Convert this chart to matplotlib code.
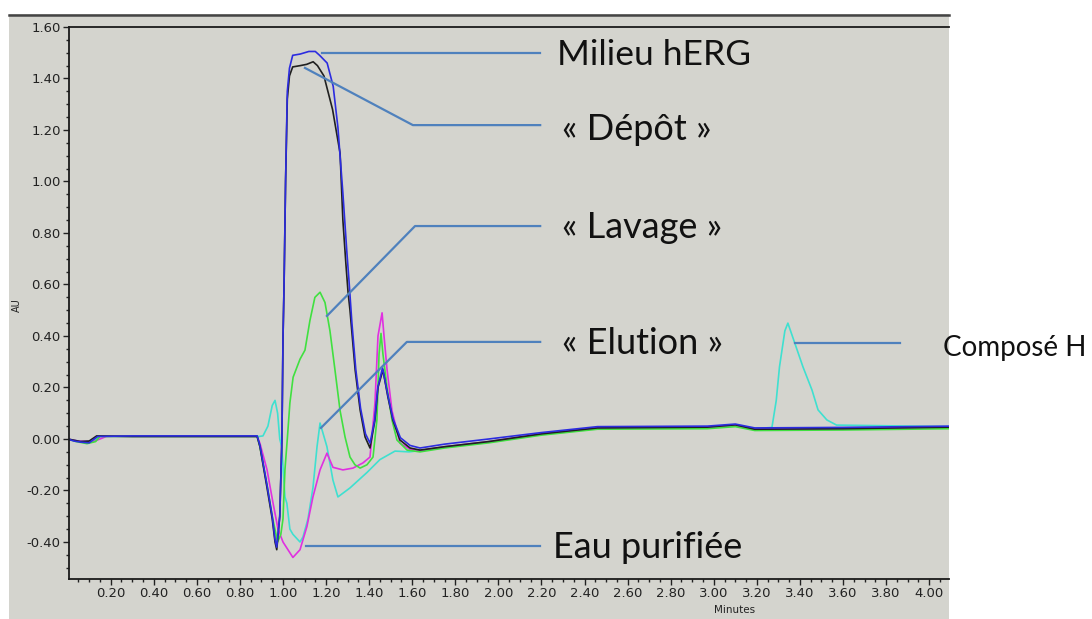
import numpy as np
import matplotlib.pyplot as plt
from matplotlib.lines import Line2D
from matplotlib.patches import Rectangle
from matplotlib.ticker import MultipleLocator, FormatStrFormatter

t_depot = [0.00, 0.03, 0.06, 0.10, 0.135, 0.30, 0.50, 0.70, 0.88, 0.893, 0.926, 0.95, 0.963, 0.971,
           0.985, 0.995, 1.00, 1.005, 1.012, 1.02, 1.03, 1.045, 1.08, 1.11, 1.14, 1.16, 1.19, 1.23,
           1.265, 1.278, 1.292, 1.302, 1.311, 1.335, 1.358, 1.381, 1.404, 1.427, 1.441, 1.464, 1.487, 1.51,
           1.543, 1.59, 1.636, 1.75, 1.955, 2.2, 2.46, 2.97, 3.10, 3.19, 3.6, 4.1]
a_depot = [0.00, -0.005, -0.01, -0.008, 0.012, 0.01, 0.01, 0.01, 0.01, -0.03, -0.19, -0.31, -0.40, -0.43,
           -0.30, 0.0, 0.39, 0.60, 1.00, 1.32, 1.41, 1.445, 1.45, 1.455, 1.465, 1.45, 1.41, 1.28,
           1.11, 0.85, 0.68, 0.57, 0.50, 0.268, 0.113, 0.008, -0.035, 0.074, 0.20, 0.268, 0.163, 0.074,
           -0.004, -0.035, -0.043, -0.03, -0.01, 0.02, 0.043, 0.046, 0.055, 0.038, 0.04, 0.046]

t_milieu = [0.00, 0.03, 0.06, 0.10, 0.14, 0.30, 0.50, 0.70, 0.88, 0.893, 0.926, 0.95, 0.963, 0.971,
            0.985, 0.995, 1.00, 1.005, 1.012, 1.02, 1.03, 1.045, 1.08, 1.12, 1.15, 1.17, 1.205, 1.233,
            1.255, 1.278, 1.297, 1.306, 1.32, 1.338, 1.36, 1.383, 1.404, 1.425, 1.44, 1.462, 1.487, 1.51,
            1.545, 1.59, 1.636, 1.75, 1.955, 2.2, 2.46, 2.97, 3.10, 3.19, 3.6, 4.1]
a_milieu = [0.00, -0.008, -0.012, -0.015, 0.01, 0.012, 0.012, 0.012, 0.012, -0.025, -0.18, -0.30, -0.39, -0.42,
            -0.30, 0.0, 0.39, 0.60, 1.00, 1.35, 1.44, 1.49, 1.495, 1.505, 1.505, 1.49, 1.46, 1.37,
            1.21, 0.955, 0.72, 0.62, 0.45, 0.27, 0.12, 0.02, -0.016, 0.07, 0.20, 0.276, 0.17, 0.08,
            0.005, -0.025, -0.035, -0.02, 0.0, 0.025, 0.048, 0.05, 0.058, 0.043, 0.045, 0.05]

t_lavage = [0.00, 0.04, 0.09, 0.13, 0.15, 0.30, 0.50, 0.70, 0.88, 0.893, 0.926, 0.95, 0.975, 0.99,
            1.00, 1.009, 1.02, 1.032, 1.047, 1.079, 1.102, 1.125, 1.148, 1.172, 1.195, 1.218, 1.241,
            1.265, 1.288, 1.311, 1.334, 1.358, 1.39, 1.418, 1.436, 1.446, 1.455, 1.464, 1.483, 1.506,
            1.529, 1.576, 1.636, 1.75, 1.955, 2.2, 2.46, 2.97, 3.10, 3.19, 3.6, 4.1]
a_lavage = [0.00, -0.01, -0.018, -0.01, 0.01, 0.01, 0.01, 0.01, 0.01, -0.03, -0.18, -0.30, -0.40, -0.37,
            -0.31, -0.12, 0.0, 0.14, 0.24, 0.31, 0.345, 0.46, 0.55, 0.57, 0.53, 0.42, 0.27,
            0.11, 0.008, -0.07, -0.10, -0.113, -0.10, -0.07, 0.074, 0.33, 0.41, 0.33, 0.20, 0.074,
            -0.004, -0.043, -0.05, -0.035, -0.015, 0.015, 0.038, 0.04, 0.048, 0.033, 0.035, 0.04]

t_eau = [0.00, 0.05, 0.12, 0.18, 0.30, 0.50, 0.70, 0.88, 0.893, 0.926, 0.954, 0.977, 1.00, 1.046,
         1.079, 1.111, 1.139, 1.172, 1.204, 1.232, 1.278, 1.325, 1.371, 1.404, 1.427, 1.441, 1.46,
         1.469, 1.483, 1.506, 1.543, 1.59, 1.636, 1.75, 1.955, 2.2, 2.46, 2.97, 3.10, 3.19, 3.6, 4.1]
a_eau = [0.00, -0.008, -0.01, 0.01, 0.01, 0.01, 0.01, 0.01, -0.017, -0.12, -0.25, -0.35, -0.40, -0.46,
         -0.43, -0.34, -0.225, -0.12, -0.055, -0.11, -0.12, -0.113, -0.093, -0.07, 0.14, 0.40, 0.49,
         0.40, 0.27, 0.11, -0.016, -0.04, -0.045, -0.03, -0.01, 0.02, 0.043, 0.046, 0.055, 0.038, 0.04, 0.046]

t_elution = [0.00, 0.05, 0.12, 0.15, 0.30, 0.50, 0.70, 0.89, 0.907, 0.93, 0.95, 0.963, 0.975, 0.985,
             0.994, 1.009, 1.018, 1.032, 1.046, 1.079, 1.093, 1.116, 1.139, 1.158, 1.172, 1.204, 1.232,
             1.255, 1.311, 1.39, 1.45, 1.52, 1.585, 1.636, 1.75, 1.955, 2.2, 2.46, 2.97, 3.10, 3.19,
             3.27, 3.29, 3.305, 3.33, 3.344, 3.377, 3.414, 3.456, 3.484, 3.525, 3.57, 4.1]
a_elution = [0.00, -0.008, -0.01, 0.01, 0.01, 0.01, 0.01, 0.01, 0.012, 0.05, 0.13, 0.15, 0.10, 0.0,
             -0.03, -0.225, -0.25, -0.35, -0.37, -0.40, -0.38, -0.31, -0.19, -0.03, 0.062, -0.03, -0.16,
             -0.225, -0.19, -0.13, -0.08, -0.047, -0.05, -0.045, -0.03, -0.01, 0.02, 0.043, 0.046, 0.052, 0.04,
             0.045, 0.15, 0.28, 0.42, 0.45, 0.37, 0.28, 0.19, 0.113, 0.074, 0.054, 0.048]

series = [
    (t_elution, a_elution, '#3fe0d0'),
    (t_eau, a_eau, '#e030e0'),
    (t_lavage, a_lavage, '#40e040'),
    (t_depot, a_depot, '#202020'),
    (t_milieu, a_milieu, '#2c2ce0'),
]

# étiquettes : texte, point sur la courbe, coude (minutes, AU)
labels = ['Milieu hERG', '« Dépôt »', '« Lavage »', '« Elution »', 'Composé H', 'Eau purifiée']
lab_start = [(1.181, 1.499), (1.102, 1.441), (1.204, 0.478), (1.176, 0.043), (3.377, 0.373), (1.107, -0.416)]
lab_elbow = [None, (1.603, 1.219), (1.613, 0.827), (1.575, 0.377), None, None]
lab_end_x = [2.194, 2.194, 2.194, 2.194, 3.864, 2.194]
lab_text_x = [557, 562, 562, 562, 943, 553]
lab_text_y = [55, 130, 228, 344, 348, 548]
lab_size = [25.5, 26, 26, 26, 20, 26]

W, H = 1092, 619
bg = '#d4d4ce'
fig = plt.figure(figsize=(W / 100, H / 100), dpi=100)
fig.patches.append(Rectangle((9 / W, 0), 940 / W, 1 - 14 / H, transform=fig.transFigure,
                             facecolor=bg, edgecolor='none', zorder=-10))
fig.lines.append(Line2D([9 / W, 949 / W], [1 - 14.5 / H] * 2, transform=fig.transFigure,
                        color='#444444', lw=1.8, zorder=-5))

ax = fig.add_axes([69 / W, 1 - 579 / H, 880 / W, 552 / H])
ax.set_facecolor(bg)
for t, a, c in series:
    ax.plot(t, a, color=c, lw=1.2)

ax.set_xlim(0.0065, 4.092)
ax.set_ylim(-0.5437, 1.60)
ax.xaxis.set_major_locator(MultipleLocator(0.2))
ax.xaxis.set_minor_locator(MultipleLocator(0.05))
ax.yaxis.set_major_locator(MultipleLocator(0.2))
ax.yaxis.set_minor_locator(MultipleLocator(0.05))
ax.xaxis.set_major_formatter(FormatStrFormatter('%.2f'))
ax.yaxis.set_major_formatter(FormatStrFormatter('%.2f'))
ax.tick_params(which='major', length=4, width=1, color='#222222', labelsize=9.5,
               labelcolor='#222222', pad=2)
ax.tick_params(which='minor', length=2.5, width=1, color='#222222')
ax.spines['right'].set_visible(False)
for s in ['left', 'bottom', 'top']:
    ax.spines[s].set_color('#1a1a1a')
    ax.spines[s].set_linewidth(1.3)
ax.set_xlabel('Minutes', fontsize=7.5, labelpad=0, color='#222222')
ax.set_ylabel('AU', fontsize=7, labelpad=4, color='#222222')
ax.xaxis.set_label_coords((735 - 69) / 880, -(605 - 579) / 552)
ax.yaxis.set_label_coords(-(69 - 22) / 880, (579 - 305) / 552)

lead = '#4f81bd'
for i, txt in enumerate(labels):
    pts = [lab_start[i]]
    if lab_elbow[i] is not None:
        pts.append(lab_elbow[i])
    pts.append((lab_end_x[i], pts[-1][1]))
    xs, ys = zip(*pts)
    ax.plot(xs, ys, color=lead, lw=1.6, clip_on=False, zorder=5)
    fig.text(lab_text_x[i] / W, 1 - lab_text_y[i] / H, txt, fontsize=lab_size[i], family='Lato',
             ha='left', va='center', color='#111111')

fig.savefig('out.png', dpi=100)
